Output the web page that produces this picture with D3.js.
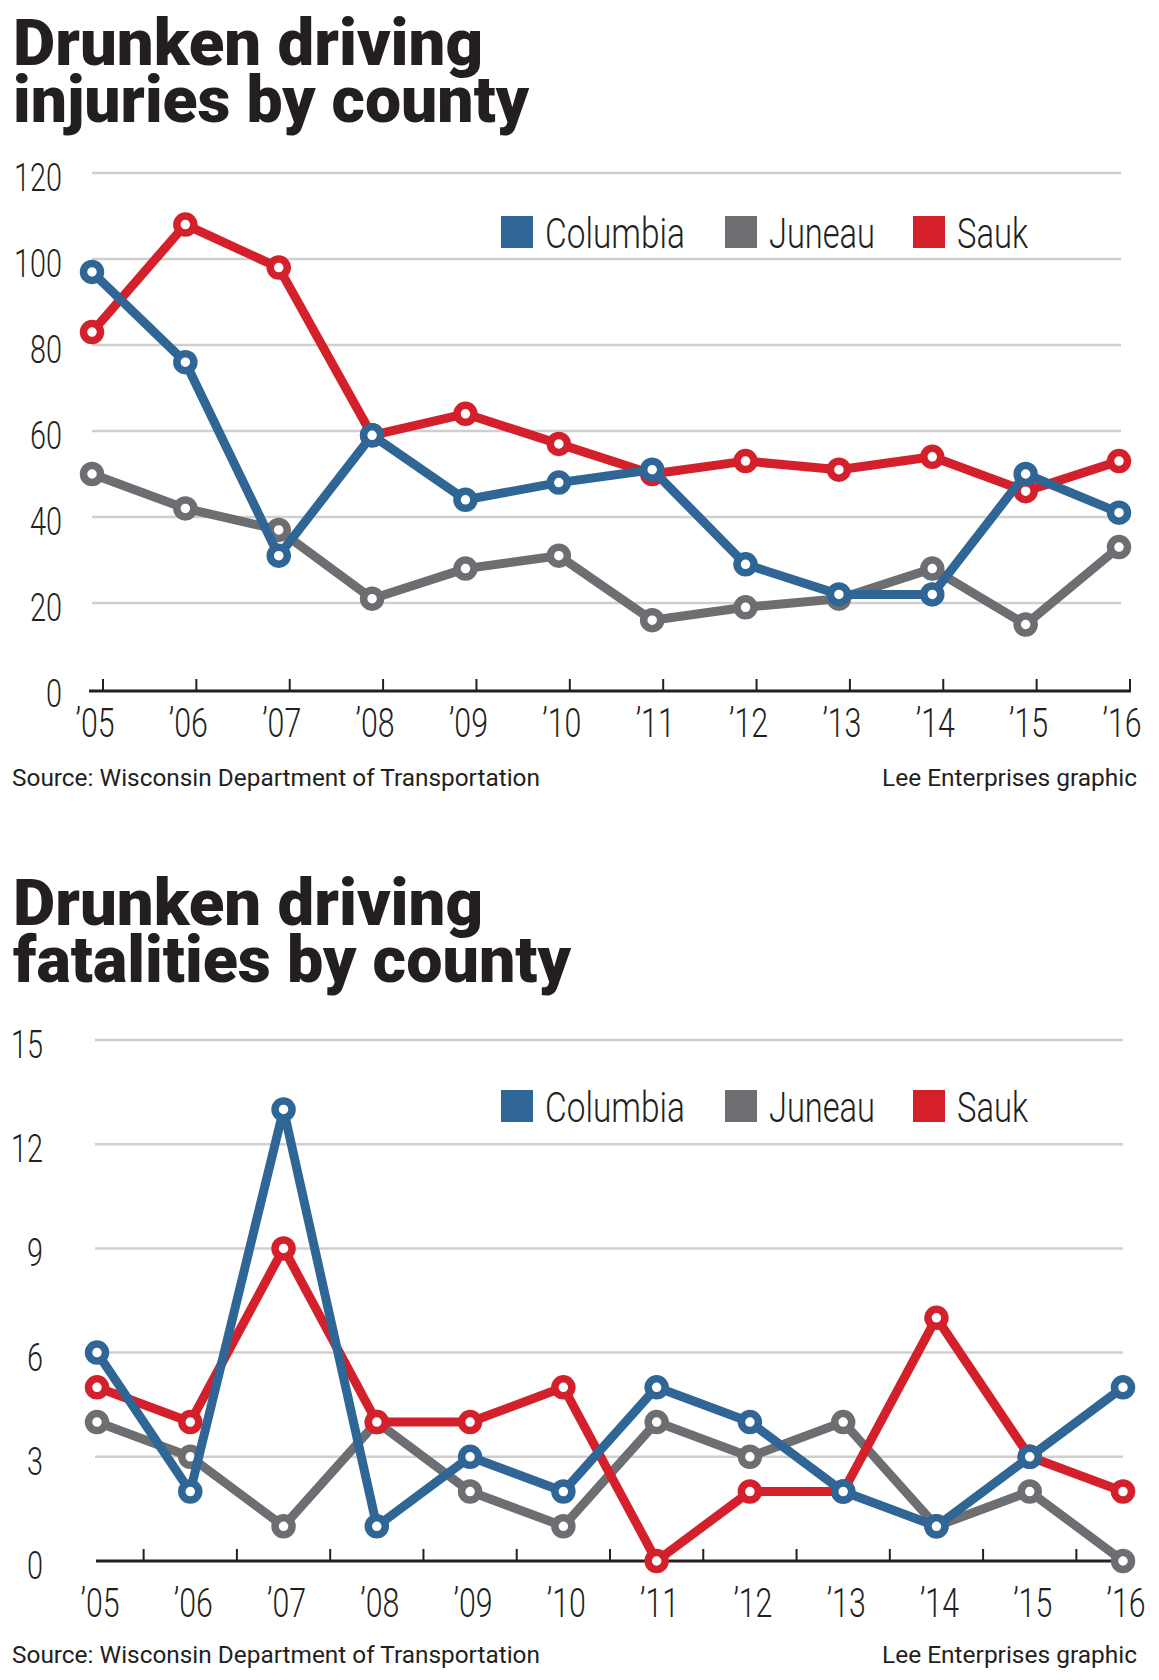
<!DOCTYPE html>
<html>
<head>
<meta charset="utf-8">
<script src="https://cdn.jsdelivr.net/npm/d3@7"></script>
<style>
  body { margin: 0; background: #fff; }
  text { fill: #231f20; }
</style>
</head>
<body>
<svg width="1159" height="1680"></svg>
<script>
const years = ['05', '06', '07', '08', '09', '10', '11', '12', '13', '14', '15', '16'];
const counties = ['Columbia', 'Juneau', 'Sauk'];
const colors = ['#2f6696', '#6d6e71', '#d4202a'];

const injColumbia = [97, 76, 31, 59, 44, 48, 51, 29, 22, 22, 50, 41];
const injJuneau   = [50, 42, 37, 21, 28, 31, 16, 19, 21, 28, 15, 33];
const injSauk     = [83, 108, 98, 59, 64, 57, 50, 53, 51, 54, 46, 53];
const injTicks = [0, 20, 40, 60, 80, 100, 120];

const fatColumbia = [6, 2, 13, 1, 3, 2, 5, 4, 2, 1, 3, 5];
const fatJuneau   = [4, 3, 1, 4, 2, 1, 4, 3, 4, 1, 2, 0];
const fatSauk     = [5, 4, 9, 4, 4, 5, 0, 2, 2, 7, 3, 2];
const fatTicks = [0, 3, 6, 9, 12, 15];

const svg = d3.select('svg');
const condensed = 0.74;

// condensed light label helper
function label(g, x, y, txt, anchor, size) {
    g.append('text')
        .attr('transform', `translate(${x},${y}) scale(${condensed},1)`)
        .attr('text-anchor', anchor)
        .style('font-family', 'Roboto')
        .style('font-weight', 300)
        .style('font-size', size + 'px')
        .text(txt);
}

function title(lines, top, widths) {
    lines.forEach((t, i) => {
        svg.append('text')
            .attr('x', 13)
            .attr('y', top + i * 57)
            .attr('textLength', widths[i])
            .attr('lengthAdjust', 'spacingAndGlyphs')
            .style('font-family', 'Roboto')
            .style('font-weight', 900)
            .style('font-size', '64px')
            .text(t);
    });
}

function footer(y) {
    svg.append('text')
        .attr('x', 12).attr('y', y)
        .attr('textLength', 528).attr('lengthAdjust', 'spacingAndGlyphs')
        .style('font-family', 'Roboto').style('font-size', '24px')
        .text('Source: Wisconsin Department of Transportation');
    svg.append('text')
        .attr('x', 882).attr('y', y)
        .attr('textLength', 255).attr('lengthAdjust', 'spacingAndGlyphs')
        .style('font-family', 'Roboto').style('font-size', '24px')
        .text('Lee Enterprises graphic');
}

function chart(o) {
    const g = svg.append('g');
    const x = d3.scalePoint().domain(years).range(o.xRange);
    const y = d3.scaleLinear().domain([0, d3.max(o.ticks)]).range(o.yRange);

    // gridlines
    g.selectAll('.grid')
        .data(o.ticks.filter(d => d > 0))
        .enter().append('line')
        .attr('x1', o.gridX[0]).attr('x2', o.gridX[1])
        .attr('y1', d => y(d)).attr('y2', d => y(d))
        .attr('stroke', '#cfcfcf').attr('stroke-width', 2.5);

    // y labels
    o.ticks.forEach(t => label(g, o.yLabelX, y(t) + 18, t, 'end', 39));

    // x axis
    const base = y(0) + o.axisShift;
    g.append('line')
        .attr('x1', o.axisX[0]).attr('x2', o.axisX[1])
        .attr('y1', base).attr('y2', base)
        .attr('stroke', '#231f20').attr('stroke-width', 3);
    g.selectAll('.tick')
        .data(o.tickPos(x))
        .enter().append('line')
        .attr('x1', d => d).attr('x2', d => d)
        .attr('y1', base - 12).attr('y2', base)
        .attr('stroke', '#231f20').attr('stroke-width', 2);
    years.forEach(yr => label(g, x(yr) + 3, o.xLabelY, '\u2019' + yr, 'middle', 41));

    // legend
    const legX = [501, 725, 913];
    const legW = [140, 106, 71];
    counties.forEach((c, i) => {
        g.append('rect')
            .attr('x', legX[i]).attr('y', o.legendY)
            .attr('width', 32).attr('height', 32)
            .attr('fill', colors[i]);
        g.append('text')
            .attr('x', legX[i] + 44).attr('y', o.legendY + 32)
            .attr('textLength', legW[i]).attr('lengthAdjust', 'spacingAndGlyphs')
            .style('font-family', 'Roboto').style('font-weight', 300)
            .style('font-size', '42px')
            .text(c);
    });

    // lines, gray then red then blue on top
    const line = d3.line().x((d, i) => x(years[i])).y(d => y(d));
    [1, 2, 0].forEach(k => {
        const s = g.append('g');
        s.append('path')
            .attr('d', line(o.series[k]))
            .attr('fill', 'none')
            .attr('stroke', colors[k])
            .attr('stroke-width', 9)
            .attr('stroke-linejoin', 'round');
        s.selectAll('circle')
            .data(o.series[k])
            .enter().append('circle')
            .attr('cx', (d, i) => x(years[i]))
            .attr('cy', d => y(d))
            .attr('r', 8.5)
            .attr('fill', '#fff')
            .attr('stroke', colors[k])
            .attr('stroke-width', 7.5);
    });
}

title(['Drunken driving', 'injuries by county'], 65, [470, 516]);
chart({
    series: [injColumbia, injJuneau, injSauk],
    ticks: injTicks,
    xRange: [92, 1119],
    yRange: [689, 173],
    gridX: [92, 1121],
    axisX: [89, 1131],
    axisShift: 2,
    yLabelX: 62,
    xLabelY: 737,
    legendY: 216,
    tickPos: x => years.map(yr => x(yr) + 11)
});
footer(786);

title(['Drunken driving', 'fatalities by county'], 925, [470, 558]);
chart({
    series: [fatColumbia, fatJuneau, fatSauk],
    ticks: fatTicks,
    xRange: [97, 1123],
    yRange: [1561, 1040],
    gridX: [95, 1123],
    axisX: [96, 1123],
    axisShift: 0,
    yLabelX: 43,
    xLabelY: 1617,
    legendY: 1090,
    tickPos: x => years.slice(1).map(yr => x(yr) - x.step() / 2)
});
footer(1663);
</script>
</body>
</html>
